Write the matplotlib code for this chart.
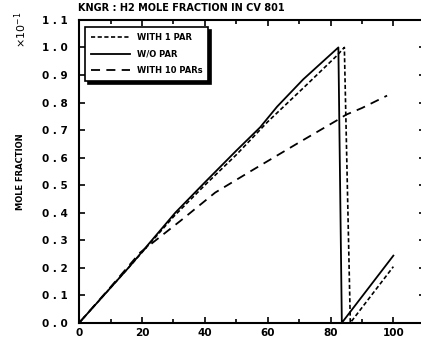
import matplotlib
matplotlib.use("Agg")
import matplotlib.pyplot as plt
from matplotlib.ticker import MultipleLocator, FixedLocator

plt.rcParams['font.family'] = ['DejaVu Sans']

# series
x_1par = [0, 15.7, 30, 40, 50, 60, 72, 82, 84.4, 86.3, 100]
y_1par = [0.0, 0.20, 0.385, 0.50, 0.61, 0.73, 0.86, 0.97, 1.0, 0.0, 0.204]

x_wo = [0, 15.7, 30.6, 40, 50, 57.6, 63, 71.3, 82.5, 83.6, 100]
y_wo = [0.0, 0.20, 0.40, 0.51, 0.625, 0.71, 0.785, 0.884, 1.0, 0.0, 0.244]

x_10par = [0, 10, 19.4, 32.2, 43.3, 54.5, 70, 82, 85, 90, 98]
y_10par = [0.0, 0.13, 0.255, 0.37, 0.473, 0.55, 0.655, 0.735, 0.756, 0.78, 0.825]

y_ticks = [0.0, 0.1, 0.2, 0.3, 0.4, 0.5, 0.6, 0.7, 0.8, 0.9, 1.0, 1.1]
y_labels = ["0 . 0", "0 . 1", "0 . 2", "0 . 3", "0 . 4", "0 . 5",
            "0 . 6", "0 . 7", "0 . 8", "0 . 9", "1 . 0", "1 . 1"]
x_ticks = [0, 20, 40, 60, 80, 100]

fig = plt.figure(figsize=(4.21, 3.49), dpi=100)
ax = fig.add_axes([0.188, 0.075, 0.821, 0.868])

ax.plot(x_1par, y_1par, color='black', lw=1.2, linestyle=(0, (2.5, 1.5)), label='WITH 1 PAR')
ax.plot(x_wo, y_wo, color='black', lw=1.3, label='W/O PAR')
ax.plot(x_10par, y_10par, color='black', lw=1.3, linestyle=(0, (5, 3.5)), label='WITH 10 PARs')

ax.set_xlim(0, 110)
ax.set_ylim(0, 1.1)
ax.xaxis.set_major_locator(FixedLocator(x_ticks))
ax.xaxis.set_minor_locator(MultipleLocator(10))
ax.set_yticks(y_ticks)
ax.set_yticklabels(y_labels)
ax.set_xticklabels([str(v) for v in x_ticks])
ax.tick_params(which='both', direction='in', top=True, right=True,
               width=1.2, labelsize=7.5)
ax.tick_params(which='major', length=4.5)
ax.tick_params(which='minor', length=3)
ax.tick_params(axis='y', pad=8)
for lab in ax.get_xticklabels() + ax.get_yticklabels():
    lab.set_fontweight('bold')
for sp in ax.spines.values():
    sp.set_linewidth(1.5)

ax.set_ylabel('MOLE FRACTION', fontsize=6, fontweight='bold', labelpad=12)
fig.text(0.03, 0.915, r'$\times 10^{-1}$', rotation=90, fontsize=8,
         ha='left', va='center')
fig.text(0.186, 0.962, 'KNGR : H2 MOLE FRACTION IN CV 801',
         fontsize=7, fontweight='bold', ha='left', va='bottom')

leg = ax.legend(loc='upper left', bbox_to_anchor=(0.018, 0.975),
                fontsize=6, frameon=True, fancybox=False,
                shadow={'color': 'black', 'alpha': 1},
                handlelength=4.6, handletextpad=0.9, borderpad=0.7,
                labelspacing=0.9, borderaxespad=0)
leg.get_frame().set_edgecolor('black')
leg.get_frame().set_linewidth(1.2)
for t in leg.get_texts():
    t.set_fontweight('bold')

fig.savefig('out.png', dpi=100)
